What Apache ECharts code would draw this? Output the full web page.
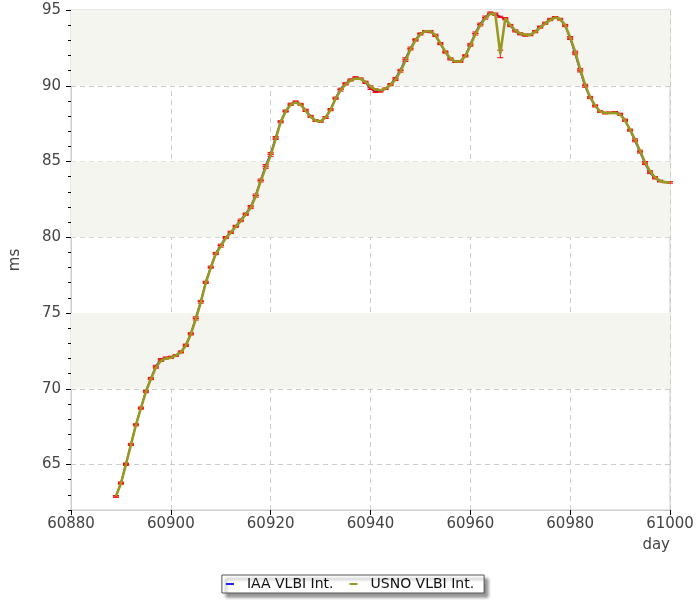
<!DOCTYPE html>
<html>
<head>
<meta charset="utf-8">
<script src="https://cdn.jsdelivr.net/npm/echarts@6/dist/echarts.min.js"></script>
<style>
html,body{margin:0;padding:0;background:#fff;}
#chart{width:700px;height:600px;}
</style>
</head>
<body>
<div id="chart"></div>
<script>
// [day, ms, error]
const usno = [
[60889,62.9,0.05],[60890,63.75,0.05],[60891,65.0,0.06],[60892,66.3,0.04],[60893,67.6,0.05],
[60894,68.7,0.05],[60895,69.8,0.06],[60896,70.65,0.05],[60897,71.4,0.04],[60898,71.85,0.05],
[60899,72.0,0.04],[60900,72.05,0.05],[60901,72.2,0.05],[60902,72.4,0.04],[60903,72.85,0.06],
[60904,73.6,0.05],[60905,74.6,0.06],[60906,75.7,0.05],[60907,77.0,0.05],[60908,78.0,0.04],
[60909,78.9,0.05],[60910,79.4,0.05],[60911,79.95,0.04],[60912,80.3,0.05],[60913,80.7,0.05],
[60914,81.07,0.04],[60915,81.5,0.05],[60916,81.95,0.06],[60917,82.7,0.05],[60918,83.7,0.05],
[60919,84.6,0.05],[60920,85.4,0.06],[60921,86.5,0.05],[60922,87.6,0.05],[60923,88.3,0.04],
[60924,88.75,0.05],[60925,88.9,0.05],[60926,88.75,0.04],[60927,88.35,0.05],[60928,87.95,0.05],
[60929,87.7,0.04],[60930,87.65,0.05],[60931,87.9,0.05],[60932,88.4,0.05],[60933,89.15,0.04],
[60934,89.7,0.05],[60935,90.1,0.05],[60936,90.35,0.04],[60937,90.48,0.05],[60938,90.46,0.05],
[60939,90.25,0.05],[60940,89.95,0.04],[60941,89.75,0.05],[60942,89.7,0.05],[60943,89.8,0.04],
[60944,90.05,0.05],[60945,90.4,0.05],[60946,90.95,0.05],[60947,91.65,0.05],[60948,92.4,0.04],
[60949,93.0,0.05],[60950,93.4,0.05],[60951,93.6,0.04],[60952,93.6,0.05],[60953,93.35,0.05],
[60954,92.8,0.05],[60955,92.25,0.05],[60956,91.8,0.04],[60957,91.6,0.05],[60958,91.6,0.05],
[60959,91.95,0.05],[60960,92.65,0.04],[60961,93.4,0.05],[60962,94.0,0.05],[60963,94.45,0.05],
[60964,94.75,0.04],[60965,94.75,0.05],[60966,92.1,0.25],[60967,94.45,0.05],[60968,94.0,0.05],
[60969,93.65,0.04],[60970,93.45,0.05],[60971,93.36,0.05],[60972,93.36,0.04],[60973,93.55,0.05],
[60974,93.85,0.05],[60975,94.1,0.04],[60976,94.34,0.05],[60977,94.5,0.05],[60978,94.4,0.05],
[60979,94.0,0.05],[60980,93.2,0.05],[60981,92.25,0.04],[60982,91.1,0.05],[60983,90.05,0.05],
[60984,89.25,0.05],[60985,88.7,0.04],[60986,88.3,0.05],[60987,88.2,0.05],[60988,88.2,0.04],
[60989,88.22,0.05],[60990,88.1,0.05],[60991,87.7,0.05],[60992,87.1,0.04],[60993,86.45,0.05],
[60994,85.7,0.05],[60995,84.95,0.05],[60996,84.35,0.04],[60997,83.95,0.05],[60998,83.72,0.05],
[60999,83.64,0.04],[61000,83.62,0.05]
];
const iaa = [
[60889,62.9,0.05],[60890,63.8,0.05],[60891,65.05,0.05],[60892,66.35,0.05],[60893,67.65,0.04],
[60894,68.75,0.05],[60895,69.85,0.05],[60896,70.7,0.05],[60897,71.5,0.05],[60898,71.95,0.04],
[60899,72.05,0.05],[60900,72.1,0.05],[60901,72.2,0.04],[60902,72.45,0.05],[60903,72.9,0.05],
[60904,73.65,0.05],[60905,74.7,0.05],[60906,75.8,0.04],[60907,77.05,0.05],[60908,78.05,0.05],
[60909,78.95,0.05],[60910,79.5,0.04],[60911,80.0,0.05],[60912,80.35,0.05],[60913,80.75,0.04],
[60914,81.15,0.05],[60915,81.55,0.05],[60916,82.05,0.05],[60917,82.8,0.05],[60918,83.8,0.04],
[60919,84.75,0.05],[60920,85.55,0.05],[60921,86.6,0.05],[60922,87.65,0.04],[60923,88.35,0.05],
[60924,88.8,0.05],[60925,88.95,0.05],[60926,88.8,0.04],[60927,88.4,0.05],[60928,88.0,0.05],
[60929,87.7,0.05],[60930,87.65,0.04],[60931,87.9,0.05],[60932,88.45,0.05],[60933,89.2,0.05],
[60934,89.8,0.04],[60935,90.15,0.05],[60936,90.4,0.05],[60937,90.55,0.05],[60938,90.45,0.04],
[60939,90.2,0.05],[60940,89.8,0.05],[60941,89.6,0.05],[60942,89.62,0.04],[60943,89.8,0.05],
[60944,90.1,0.05],[60945,90.5,0.05],[60946,91.05,0.04],[60947,91.8,0.05],[60948,92.5,0.05],
[60949,93.05,0.05],[60950,93.45,0.04],[60951,93.6,0.05],[60952,93.55,0.05],[60953,93.3,0.05],
[60954,92.75,0.04],[60955,92.2,0.05],[60956,91.75,0.05],[60957,91.6,0.05],[60958,91.62,0.04],
[60959,92.0,0.05],[60960,92.75,0.05],[60961,93.5,0.05],[60962,94.1,0.04],[60963,94.55,0.05],
[60964,94.82,0.05],[60965,94.7,0.05],[60966,94.55,0.04],[60967,94.4,0.05],[60968,93.95,0.05],
[60969,93.6,0.05],[60970,93.4,0.04],[60971,93.32,0.05],[60972,93.35,0.05],[60973,93.6,0.05],
[60974,93.9,0.04],[60975,94.15,0.05],[60976,94.4,0.05],[60977,94.52,0.05],[60978,94.38,0.04],
[60979,93.95,0.05],[60980,93.1,0.05],[60981,92.1,0.05],[60982,90.95,0.04],[60983,89.95,0.05],
[60984,89.2,0.05],[60985,88.65,0.05],[60986,88.3,0.04],[60987,88.2,0.05],[60988,88.22,0.05],
[60989,88.25,0.05],[60990,88.15,0.04],[60991,87.75,0.05],[60992,87.05,0.05],[60993,86.35,0.05],
[60994,85.6,0.04],[60995,84.85,0.05],[60996,84.25,0.05],[60997,83.9,0.05],[60998,83.7,0.04]
];
const bands = [[70,75],[80,85],[90,95]];
const xMin = 60880, xMax = 61000, xStep = 20;
const yMin = 62, yMax = 95;

const chart = echarts.init(document.getElementById('chart'), null, {renderer:'canvas'});
const FONT = 'DejaVu Sans';

function renderErr(params, api){
  const x = api.value(0), y = api.value(1), e = api.value(2);
  const t = api.coord([x, y + e]);
  const b = api.coord([x, y - e]);
  const hw = 3;
  const st = {stroke:'#ff0000', lineWidth:1};
  return {type:'group', children:[
    {type:'line', shape:{x1:t[0], y1:t[1], x2:b[0], y2:b[1]}, style:st},
    {type:'line', shape:{x1:t[0]-hw, y1:t[1], x2:t[0]+hw, y2:t[1]}, style:st},
    {type:'line', shape:{x1:b[0]-hw, y1:b[1], x2:b[0]+hw, y2:b[1]}, style:st}
  ]};
}

const option = {
  animation:false,
  backgroundColor:'#fff',
  textStyle:{fontFamily:FONT},
  grid:{left:70, right:30, top:10, bottom:90, show:true, borderColor:'#cccccc', borderWidth:1, backgroundColor:'transparent'},
  legend:{
    data:['IAA VLBI Int.','USNO VLBI Int.'],
    bottom:7, left:'center',
    icon:'rect', itemWidth:8, itemHeight:2, itemGap:16,
    padding:[2,10,2,4],
    backgroundColor:'#fff', borderColor:'#555', borderWidth:1,
    shadowColor:'rgba(0,0,0,0.45)', shadowBlur:3, shadowOffsetX:4, shadowOffsetY:4,
    textStyle:{fontFamily:FONT, fontSize:14, color:'#111', padding:[0,0,0,8]}
  },
  xAxis:{
    type:'value', min:xMin, max:xMax, interval:xStep,
    name:'day', nameLocation:'end', nameGap:0,
    nameTextStyle:{fontFamily:FONT, fontSize:15, color:'#444', align:'right', verticalAlign:'top', padding:[28,0,0,0]},
    axisLine:{show:true, onZero:false, lineStyle:{color:'#cccccc'}},
    axisTick:{show:true, length:5, lineStyle:{color:'#000'}},
    axisLabel:{fontFamily:FONT, fontSize:15, color:'#444', margin:7, formatter: v => String(v)},
    splitLine:{show:true, lineStyle:{color:'#cccccc', type:[5,4]}}
  },
  yAxis:[{
    type:'value', min:yMin, max:yMax,
    name:'ms', nameLocation:'middle', nameGap:48,
    nameTextStyle:{fontFamily:FONT, fontSize:15, color:'#444'},
    axisLine:{show:true, lineStyle:{color:'#cccccc'}},
    axisTick:{show:true, length:5, lineStyle:{color:'#000'}},
    axisLabel:{fontFamily:FONT, fontSize:15, color:'#444', margin:10, showMinLabel:false, formatter: v => String(v)},
    splitLine:{show:true, lineStyle:{color:'#cccccc', type:[5,4]}}
  },{
    type:'value', min:yMin, max:yMax, interval:1, position:'left',
    axisLine:{show:false},
    axisTick:{show:true, length:3, lineStyle:{color:'#000'}},
    axisLabel:{show:false},
    splitLine:{show:false}
  }],
  series:[
    {
      name:'bands', type:'line', data:[], z:-5, silent:true,
      markArea:{silent:true, itemStyle:{color:'#f5f5f0'},
        data: bands.map(b => [{yAxis:b[0]}, {yAxis:b[1]}])}
    },
    {
      name:'IAA VLBI Int.', type:'line', showSymbol:false, symbol:'none',
      data: iaa.map(d => [d[0], d[1]]),
      lineStyle:{color:'#2222ee', width:1.6}, itemStyle:{color:'#2222ee'}, z:2
    },
    {
      name:'iaaErr', type:'custom', renderItem:renderErr, data: iaa, z:3, silent:true
    },
    {
      name:'usnoErr', type:'custom', renderItem:renderErr, data: usno, z:3, silent:true
    },
    {
      name:'USNO VLBI Int.', type:'line', showSymbol:false, symbol:'none',
      data: usno.map(d => [d[0], d[1]]),
      lineStyle:{color:'#999922', width:2.6}, itemStyle:{color:'#999922'}, z:4
    }
  ]
};
chart.setOption(option);
</script>
</body>
</html>
